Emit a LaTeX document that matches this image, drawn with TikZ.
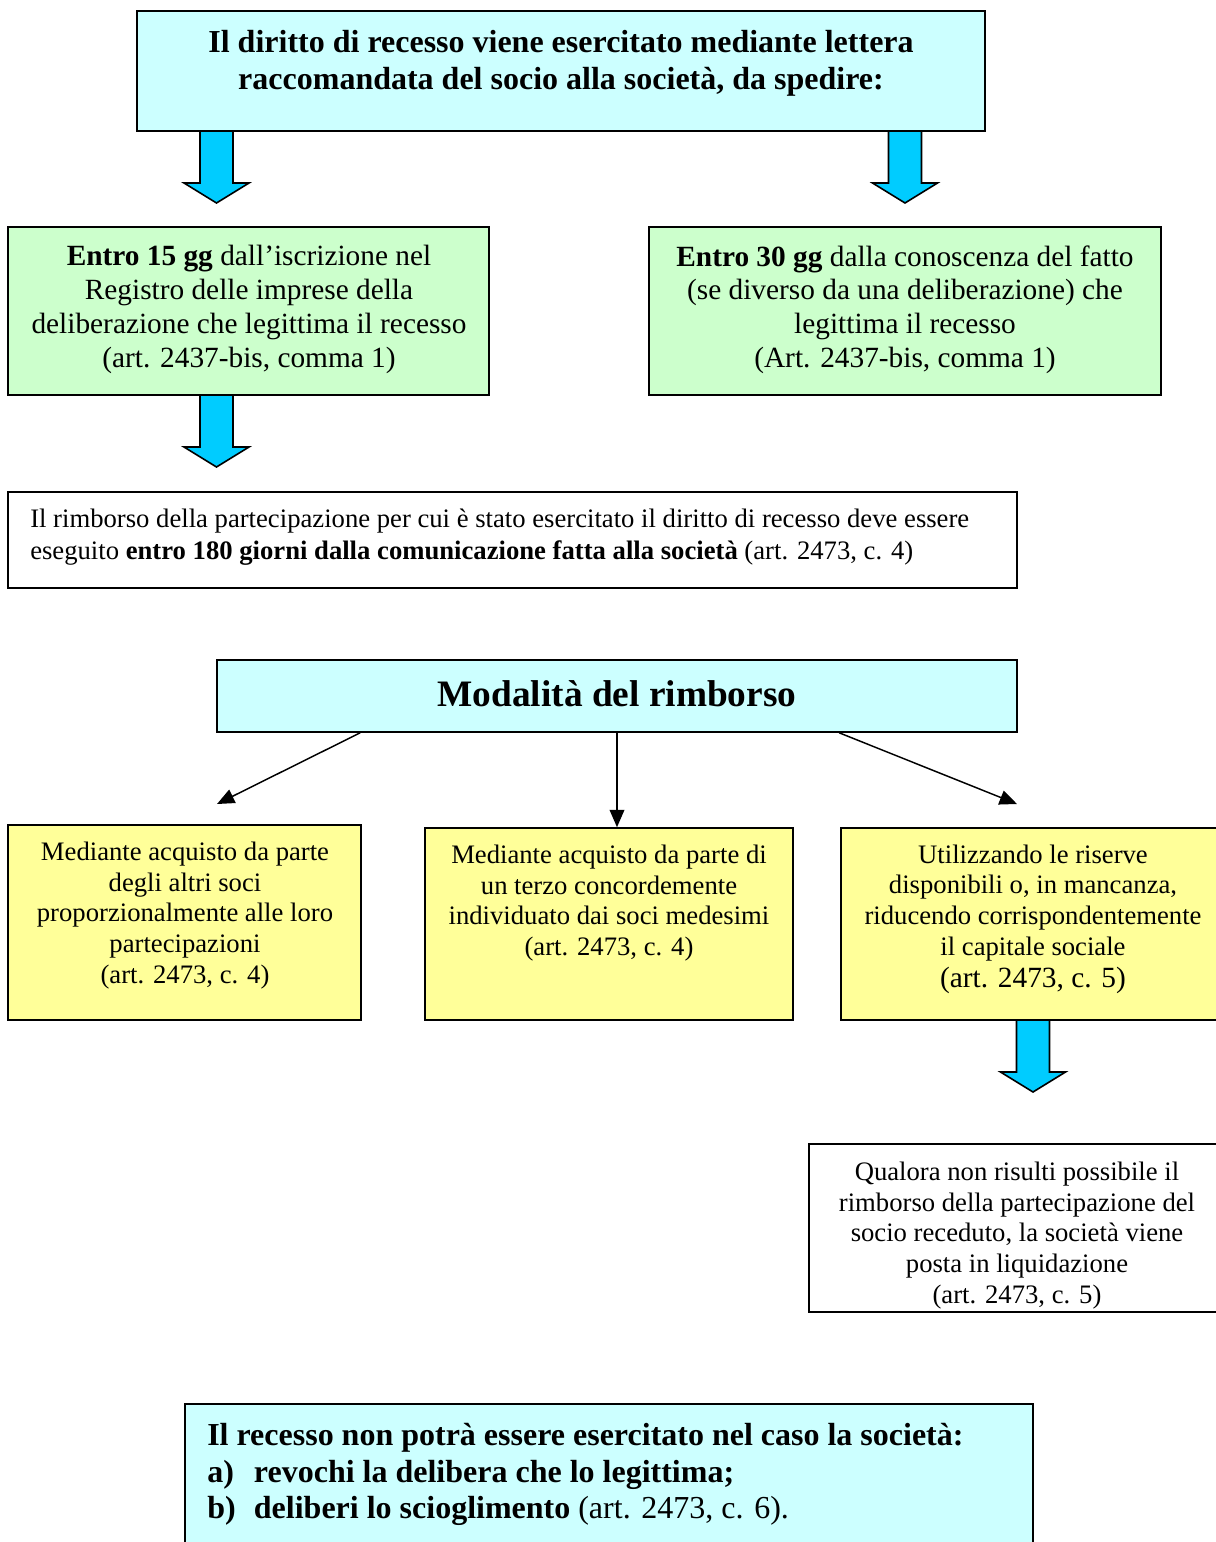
\documentclass[tikz,border=0pt]{standalone}
\usepackage{fontspec}
\setmainfont{Liberation Serif}
\usetikzlibrary{positioning,arrows.meta,calc}
\definecolor{boxcyan}{HTML}{CCFFFF}
\definecolor{boxgreen}{HTML}{CCFFCC}
\definecolor{boxyellow}{HTML}{FFFF99}
\definecolor{arrowcyan}{HTML}{00CCFF}
% fat block arrow: centre x, top y, tip y
\newcommand{\fatarrow}[3]{%
  \draw[fat] (#1-16.5,#2) -- (#1+16.5,#2) -- (#1+16.5,#3-20) -- (#1+32.5,#3-20)
    -- (#1,#3) -- (#1-32.5,#3-20) -- (#1-16.5,#3-20) -- cycle;}

\begin{document}
\begin{tikzpicture}[x=0.75pt,y=-0.75pt,
  box/.style={draw,line width=1.2pt,inner sep=0pt},
  size/.style 2 args={minimum width=#1*0.75pt,minimum height=#2*0.75pt},
  txt/.style={align=center,inner sep=0pt},
  fat/.style={draw,line width=1.2pt,fill=arrowcyan,line join=miter},
  arrow/.style={-{Triangle[length=13pt,width=11pt]},line width=1.1pt}
]
  \clip (0,0) rectangle (1216,1542);

  % block arrows
  \fatarrow{216.5}{131}{203}
  \fatarrow{905}{131}{203}
  \fatarrow{216.5}{395}{467}
  \fatarrow{1033}{1020}{1092}

  % boxes
  \node[box,fill=boxcyan,size={848}{120}] (title) at (561,71) {};
  \node[box,fill=boxgreen,size={481}{168}] (left) at (248.5,311) {};
  \node[box,fill=boxgreen,size={512}{168}] (right) at (905,311) {};
  \node[box,fill=white,size={1009}{96}] (refund) at (512.5,540) {};
  \node[box,fill=boxcyan,size={800}{72}] (modal) at (617,696) {};
  \node[box,fill=boxyellow,size={353}{195}] (soci) at (184.5,922.5) {};
  \node[box,fill=boxyellow,size={368}{192}] (terzo) at (609,924) {};
  \node[box,fill=boxyellow,size={384}{192}] (riserve) at (1033,924) {};
  \node[box,fill=white,size={416}{168}] (liquid) at (1017,1228) {};
  \node[box,fill=boxcyan,size={848}{156}] (nonrec) at (609,1482) {};

  % texts
  \node[txt,font=\fontsize{24}{27.6}\selectfont\bfseries] (titletxt) at (561,63)
    {Il diritto di recesso viene esercitato mediante lettera\\
     raccomandata del socio alla società, da spedire:};
  \node[txt,font=\fontsize{22}{25.3}\selectfont] (lefttxt) at (249,309.5)
    {\textbf{Entro 15 gg} dall’iscrizione nel\\Registro delle imprese della\\
     deliberazione che legittima il recesso\\(art. 2437-bis, comma 1)};
  \node[txt,font=\fontsize{22}{25.3}\selectfont] (righttxt) at (905,309.5)
    {\textbf{Entro 30 gg} dalla conoscenza del fatto\\(se diverso da una deliberazione) che\\
     legittima il recesso\\(Art. 2437-bis, comma 1)};
  \node[txt,align=left,anchor=west,font=\fontsize{20}{24}\selectfont] (refundtxt) at (30,537)
    {Il rimborso della partecipazione per cui è stato esercitato il diritto di recesso deve essere\\
     eseguito \textbf{entro 180 giorni dalla comunicazione fatta alla società} (art. 2473, c. 4)};
  \node[txt,font=\fontsize{28}{32}\selectfont\bfseries] (modaltxt) at (617,694)
    {Modalità del rimborso};
  \node[txt,font=\fontsize{20}{23}\selectfont] (socitxt) at (185,915.5)
    {Mediante acquisto da parte\\degli altri soci\\proporzionalmente alle loro\\
     partecipazioni\\(art. 2473, c. 4)};
  \node[txt,font=\fontsize{20}{23}\selectfont] (terzotxt) at (609,903)
    {Mediante acquisto da parte di\\un terzo concordemente\\individuato dai soci medesimi\\
     (art. 2473, c. 4)};
  \node[txt,font=\fontsize{20}{23}\selectfont] (riservetxt) at (1033,919)
    {Utilizzando le riserve\\disponibili o, in mancanza,\\riducendo corrispondentemente\\
     il capitale sociale\\[1pt]{\fontsize{22}{25}\selectfont (art. 2473, c. 5)}};
  \begin{scope}
    \clip (liquid.south west) rectangle (liquid.north east);
    \node[txt,font=\fontsize{20}{23}\selectfont] (liquidtxt) at (1017,1235.5)
      {Qualora non risulti possibile il\\rimborso della partecipazione del\\
       socio receduto, la società viene\\posta in liquidazione\\(art. 2473, c. 5)};
  \end{scope}
  \node[txt,align=left,anchor=west,font=\fontsize{24}{27.4}\selectfont] (nonrectxt) at (207,1474.5)
    {\textbf{Il recesso non potrà essere esercitato nel caso la società:}\\
     \makebox[35pt][l]{\textbf{a)}}\textbf{revochi la delibera che lo legittima;}\\
     \makebox[35pt][l]{\textbf{b)}}\textbf{deliberi lo scioglimento} (art. 2473, c. 6).};

  % connectors
  \coordinate (socitop) at (217,804);
  \coordinate (riservetop) at (1017,804);
  \draw[arrow] ($(modal.south west)+(144,0)$) -- (socitop);
  \draw[arrow] (modal.south) -- (modal.south |- terzo.north);
  \draw[arrow] ($(modal.south west)+(623,0)$) -- (riservetop);
\end{tikzpicture}
\end{document}
